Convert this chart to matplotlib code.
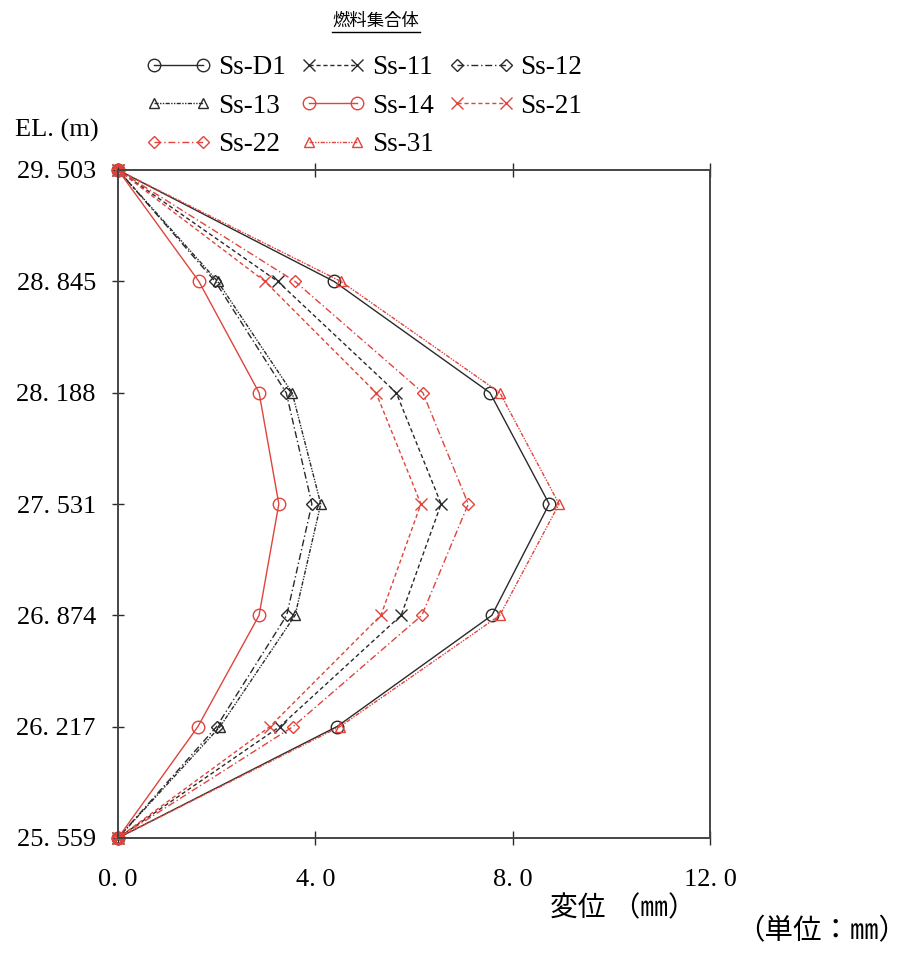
import numpy as np
import matplotlib
matplotlib.use("Agg")
import matplotlib.pyplot as plt
from matplotlib.lines import Line2D

# elevation levels (m), top to bottom
elev = [29.503, 28.845, 28.188, 27.531, 26.874, 26.217, 25.559]
elev_labels = ["29. 503", "28. 845", "28. 188", "27. 531", "26. 874", "26. 217", "25. 559"]
x_ticks = [0.0, 4.0, 8.0, 12.0]
x_tick_labels = ["0. 0", "4. 0", "8. 0", "12. 0"]

# displacement (mm) per wave
ss_d1 = [0.0, 4.38, 7.54, 8.74, 7.58, 4.44, 0.0]
ss_11 = [0.0, 3.24, 5.64, 6.55, 5.74, 3.28, 0.0]
ss_12 = [0.0, 1.97, 3.41, 3.93, 3.42, 2.00, 0.0]
ss_13 = [0.0, 2.02, 3.53, 4.11, 3.59, 2.07, 0.0]
ss_14 = [0.0, 1.64, 2.86, 3.26, 2.86, 1.62, 0.0]
ss_21 = [0.0, 2.98, 5.23, 6.14, 5.33, 3.08, 0.0]
ss_22 = [0.0, 3.59, 6.18, 7.10, 6.16, 3.55, 0.0]
ss_31 = [0.0, 4.52, 7.74, 8.94, 7.74, 4.50, 0.0]

names = ["Ss-D1", "Ss-11", "Ss-12", "Ss-13", "Ss-14", "Ss-21", "Ss-22", "Ss-31"]
values = [ss_d1, ss_11, ss_12, ss_13, ss_14, ss_21, ss_22, ss_31]

BLK = "#2a2a2a"
RED = "#e0443c"
styles = [
    (BLK, "-", "o", 9),
    (BLK, (0, (3, 2)), "x", 9),
    (BLK, (0, (5, 2, 1, 2)), "D", 6),
    (BLK, (0, (3, 1, 1, 1, 1, 1)), "^", 7),
    (RED, "-", "o", 9),
    (RED, (0, (3, 2)), "x", 9),
    (RED, (0, (5, 2, 1, 2)), "D", 6),
    (RED, (0, (3, 1, 1, 1, 1, 1)), "^", 7),
]

SERIF = ["Liberation Serif", "Noto Sans CJK JP"]
plt.rcParams["font.family"] = SERIF

fig = plt.figure(figsize=(9.17, 9.58), dpi=100)
ax = fig.add_axes([118 / 917, 1 - 838 / 958, 592 / 917, 668 / 958])

handles = []
for name, vals, (col, ls, mk, ms) in zip(names, values, styles):
    ln, = ax.plot(vals, elev, color=col, ls=ls, lw=1.0, marker=mk, ms=ms,
                  mfc="none", mec=col, mew=1.0, label=name, clip_on=False)
    handles.append(ln)

ax.set_xlim(0, 12)
ax.set_ylim(elev[-1], elev[0])
ax.set_xticks(x_ticks)
ax.set_xticklabels(x_tick_labels, fontsize=19)
ax.set_yticks(elev)
ax.set_yticklabels(elev_labels, fontsize=19)
ax.tick_params(axis="x", direction="inout", length=10, width=1, pad=17, top=True, color=BLK)
ax.tick_params(axis="y", direction="inout", length=8, width=1, pad=12, color=BLK)
for s in ax.spines.values():
    s.set_linewidth(1.4)
    s.set_color("#444444")

# legend, row-major order across 3 columns
order = [0, 3, 6, 1, 4, 7, 2, 5]
fig.legend([handles[i] for i in order], [names[i] for i in order],
           loc="upper left", bbox_to_anchor=(146 / 917, 1 - 55 / 958), ncol=3,
           frameon=False, fontsize=19.5, numpoints=2, handlelength=2.4,
           handletextpad=0.25, columnspacing=0.55, labelspacing=0.5,
           borderpad=0, borderaxespad=0)

# title with underline
fig.text(376 / 917, 1 - 21 / 958, "燃料集合体", fontsize=12.5, ha="center", va="center",
         family="Noto Sans CJK JP")
fig.add_artist(Line2D([332 / 917, 420 / 917], [1 - 32 / 958, 1 - 32 / 958],
                      color="black", lw=1.0))

fig.text(15 / 917, 1 - 130 / 958, "EL. (m)", fontsize=19, ha="left", va="center")
fig.text(550 / 917, 1 - 909 / 958, "変位 （㎜）", fontsize=20, ha="left", va="center")
fig.text(907 / 917, 1 - 932 / 958, "（単位：㎜）", fontsize=20.5, ha="right", va="center")

fig.savefig("out.png", dpi=100, facecolor="white")
